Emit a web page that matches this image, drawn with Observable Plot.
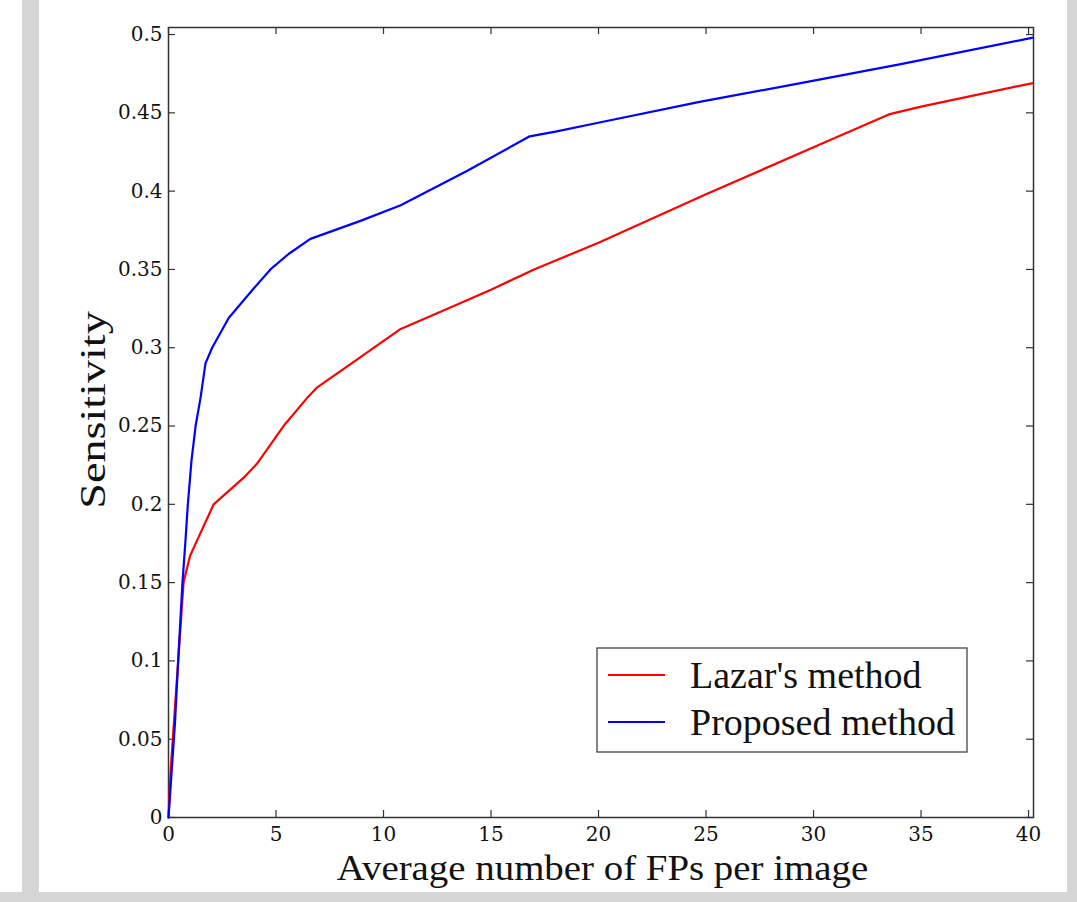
<!DOCTYPE html>
<html>
<head>
<meta charset="utf-8">
<script src="https://cdn.jsdelivr.net/npm/d3@7"></script>
<script src="https://cdn.jsdelivr.net/npm/@observablehq/plot@0.6"></script>
<style>
  html, body { margin: 0; padding: 0; background: #ffffff; }
  #wrap { position: relative; width: 1077px; height: 902px; overflow: hidden; background: #ffffff; }
  .strip { position: absolute; background: #d5d5d5; }
  #chart { position: absolute; left: 0; top: 0; }
  #chart svg { background: transparent !important; }
</style>
</head>
<body>
<div id="wrap">
  <div class="strip" style="left:22px;top:0;width:17px;height:902px"></div>
  <div class="strip" style="left:1067px;top:0;width:10px;height:902px"></div>
  <div class="strip" style="left:0;top:892px;width:1077px;height:10px"></div>
  <div id="chart"></div>
</div>
<script>
// Average number of FPs per image (x) vs Sensitivity (y)
const proposedX = [0, 0.15, 0.3, 0.45, 0.65, 0.79, 0.9, 1.07, 1.26, 1.49, 1.72, 2.03, 2.8, 3.97, 4.74, 5.6, 6.6, 8.93, 10.8, 13.9, 16.8, 18, 20.1, 24.7, 29.4, 34, 40.2];
const proposedY = [0, 0.03, 0.06, 0.1, 0.15, 0.177, 0.2, 0.228, 0.25, 0.268, 0.29, 0.3, 0.319, 0.338, 0.35, 0.36, 0.3695, 0.381, 0.391, 0.413, 0.435, 0.438, 0.444, 0.457, 0.469, 0.481, 0.498];
const lazarX = [0, 0.1, 0.25, 0.45, 0.7, 1.0, 1.33, 2.1, 3.5, 4.12, 5.35, 6.45, 6.9, 8.93, 10.8, 13, 15, 17, 20, 25, 30, 33.5, 35, 40.2];
const lazarY = [0, 0.03, 0.06, 0.1, 0.15, 0.167, 0.177, 0.2, 0.217, 0.226, 0.25, 0.268, 0.2745, 0.294, 0.312, 0.325, 0.337, 0.35, 0.367, 0.398, 0.428, 0.449, 0.454, 0.469];
const seriesNames = ["Lazar's method", "Proposed method"];
const seriesColors = ["#ff0000", "#0000ff"];
const xTicks = [0, 5, 10, 15, 20, 25, 30, 35, 40];
const yTicks = [0, 0.05, 0.1, 0.15, 0.2, 0.25, 0.3, 0.35, 0.4, 0.45, 0.5];
const xLabel = "Average number of FPs per image";
const yLabel = "Sensitivity";

const lazar = lazarX.map((x, i) => ({x, y: lazarY[i], s: seriesNames[0]}));
const proposed = proposedX.map((x, i) => ({x, y: proposedY[i], s: seriesNames[1]}));

const W = 1077, H = 902;
const mL = 168, mR = 44, mT = 27, mB = 85;
const plotH = H - mT - mB, plotW = W - mL - mR;
const tk = 7;
const serif = "'Liberation Serif', 'Times New Roman', serif";
const tickFont = "'DejaVu Serif', serif";

const chart = Plot.plot({
  width: W, height: H,
  marginLeft: mL, marginRight: mR, marginTop: mT, marginBottom: mB,
  style: {background: "transparent", fontFamily: serif, color: "#111"},
  x: {domain: [0, 40.23], label: null},
  y: {domain: [0, 0.5045], label: null},
  color: {domain: seriesNames, range: seriesColors},
  marks: [
    Plot.axisX(xTicks, {tickSize: 0, tickPadding: 9, fontSize: 20, fontFamily: tickFont, tickFormat: d => String(d)}),
    Plot.axisY(yTicks, {tickSize: 0, tickPadding: 6, fontSize: 20, fontFamily: tickFont, tickFormat: d => String(+d.toFixed(2))}),
    Plot.ruleX(xTicks, {x: d => d, insetTop: plotH - tk, stroke: "#333", strokeWidth: 1.2}),
    Plot.ruleX(xTicks, {x: d => d, insetBottom: plotH - tk, stroke: "#333", strokeWidth: 1.2}),
    Plot.ruleY(yTicks, {y: d => d, insetRight: plotW - tk, stroke: "#333", strokeWidth: 1.2}),
    Plot.ruleY(yTicks, {y: d => d, insetLeft: plotW - tk, stroke: "#333", strokeWidth: 1.2}),
    Plot.frame({stroke: "#333", strokeWidth: 1.5}),
    Plot.line(lazar, {x: "x", y: "y", stroke: "s", strokeWidth: 2.2}),
    Plot.line(proposed, {x: "x", y: "y", stroke: "s", strokeWidth: 2.2})
  ]
});

const svg = d3.select(chart);
// axis titles
svg.append("text")
  .attr("transform", `translate(${mL + plotW / 2 + 2}, 880) scale(1.08, 1)`)
  .attr("text-anchor", "middle")
  .attr("font-family", serif).attr("font-size", 36).attr("fill", "#111")
  .text(xLabel);
svg.append("text")
  .attr("transform", `translate(105, 410) rotate(-90) scale(1.32, 1)`)
  .attr("text-anchor", "middle")
  .attr("font-family", serif).attr("font-size", 35).attr("fill", "#111")
  .text(yLabel);

// legend box
const lg = svg.append("g");
const lx = 597, ly = 648, lw = 370, lh = 104;
lg.append("rect").attr("x", lx).attr("y", ly).attr("width", lw).attr("height", lh)
  .attr("fill", "#fff").attr("stroke", "#444").attr("stroke-width", 1.3);
seriesNames.forEach((name, i) => {
  const yy = ly + 27 + i * 47;
  lg.append("line").attr("x1", lx + 11).attr("x2", lx + 68).attr("y1", yy).attr("y2", yy)
    .attr("stroke", seriesColors[i]).attr("stroke-width", 2.2);
  lg.append("text").attr("x", lx + 93).attr("y", yy + 13)
    .attr("text-anchor", "start")
    .attr("font-family", serif).attr("font-size", 38).attr("fill", "#111")
    .text(name);
});

document.getElementById("chart").appendChild(chart);
</script>
</body>
</html>
